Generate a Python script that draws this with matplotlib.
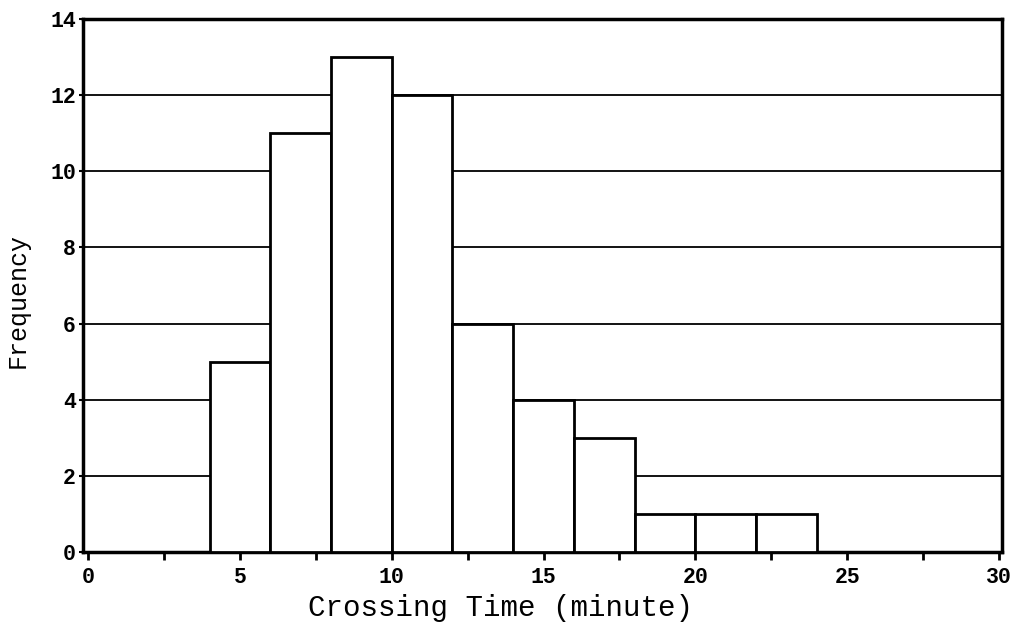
import matplotlib
matplotlib.use("Agg")
import matplotlib.pyplot as plt
import numpy as np

bin_edges = [4, 6, 8, 10, 12, 14, 16, 18, 20, 22, 24]
frequencies = [5, 11, 13, 12, 6, 4, 3, 1, 1, 1]
x_ticks = [0, 5, 10, 15, 20, 25, 30]
y_ticks = [0, 2, 4, 6, 8, 10, 12, 14]
x_label = "Crossing Time (minute)"
y_label = "Frequency"

mono = ["Liberation Mono", "DejaVu Sans Mono"]

fig = plt.figure(figsize=(10.11, 6.37), dpi=100)
ax = fig.add_axes([83 / 1011, 1 - 552 / 637, (1002 - 83) / 1011, (552 - 19) / 637])

edges = np.array(bin_edges, dtype=float)
widths = np.diff(edges)
ax.bar(edges[:-1], frequencies, width=widths, align="edge",
       facecolor="white", edgecolor="black", linewidth=2.0, zorder=3)

for yv in y_ticks[1:-1]:
    ax.axhline(yv, color="black", linewidth=1.3, zorder=1)

ax.set_xlim(-0.17, 30.1)
ax.set_ylim(0, 14)
ax.set_xticks(x_ticks)
ax.set_xticks(np.arange(0, 30.1, 2.5), minor=True)
ax.set_yticks(y_ticks)
ax.tick_params(axis="x", which="both", direction="out", length=6, width=2, pad=5)
ax.tick_params(axis="y", which="major", direction="out", length=3, width=1.5, pad=2)
for lbl in ax.get_xticklabels() + ax.get_yticklabels():
    lbl.set_fontfamily(mono)
    lbl.set_fontsize(15.5)
    lbl.set_fontweight("bold")

for s in ax.spines.values():
    s.set_linewidth(2.5)
    s.set_color("black")

fig.text(501 / 1011, 1 - 608 / 637, x_label, ha="center", va="center",
         family=mono, fontsize=21)
fig.text(18 / 1011, 1 - 300 / 637, y_label, ha="center", va="center",
         rotation=90, family=mono, fontsize=18)

fig.savefig("out.png", dpi=100)
